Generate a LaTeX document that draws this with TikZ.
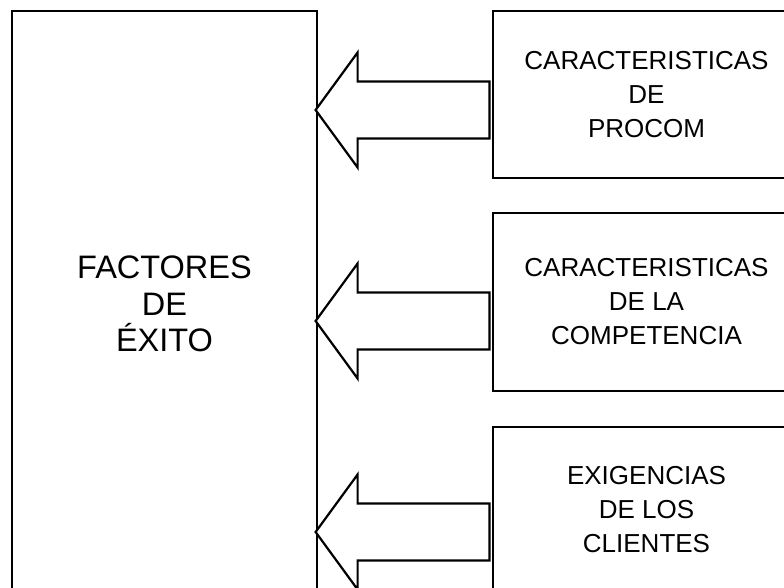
\documentclass[tikz,border=0pt]{standalone}
\usepackage{fontspec}
\setmainfont{Liberation Sans}
\usetikzlibrary{calc}
\tikzset{
  mainbox/.style={draw=black, line width=1.2pt, minimum width=305pt, minimum height=586pt, inner sep=0pt, align=center, font=\fontsize{32.5}{36.5}\selectfont},
  sidebox/.style={draw=black, line width=1.2pt, minimum width=307pt, inner sep=0pt, align=center, font=\fontsize{26}{34}\selectfont},
  bigarrow/.style={draw=black, line width=2.2pt, line join=miter, fill=white}
}
\begin{document}
\begin{tikzpicture}[x=1pt,y=-1pt]
\useasboundingbox (0,0) rectangle (784,587);
\clip (0,0) rectangle (784,587);
\fill[white] (0,0) rectangle (784,587);
\node[mainbox] (main) at (164.5,304) {FACTORES\\DE\\ÉXITO};
\node[sidebox, minimum height=167pt] (b1) at (646.5,94.5) {CARACTERISTICAS\\DE\\PROCOM};
\node[sidebox, minimum height=178pt] (b2) at (646.5,302) {CARACTERISTICAS\\DE LA\\COMPETENCIA};
\node[sidebox, minimum height=166pt] (b3) at (646.5,510) {EXIGENCIAS\\DE LOS\\CLIENTES};
% arrows
\path ($(b1.west)+(-3,15.5)$) coordinate (s1) ($(main.east)!(s1)!(main.east|-0,0)$) coordinate (t1);
\path ($(b2.west)+(-3,19)$) coordinate (s2) ($(main.east)!(s2)!(main.east|-0,0)$) coordinate (t2);
\path ($(b3.west)+(-3,22)$) coordinate (s3) ($(main.east)!(s3)!(main.east|-0,0)$) coordinate (t3);
\foreach \i in {1,2,3}{
  \draw[bigarrow] ($(t\i)+(-2,0)$) -- ($(t\i)+(40,-57.5)$) -- ($(t\i)+(40,-28.5)$) -- ($(s\i)+(0,-28.5)$) -- ($(s\i)+(0,28.5)$) -- ($(t\i)+(40,28.5)$) -- ($(t\i)+(40,57.5)$) -- cycle;
}
\end{tikzpicture}
\end{document}
